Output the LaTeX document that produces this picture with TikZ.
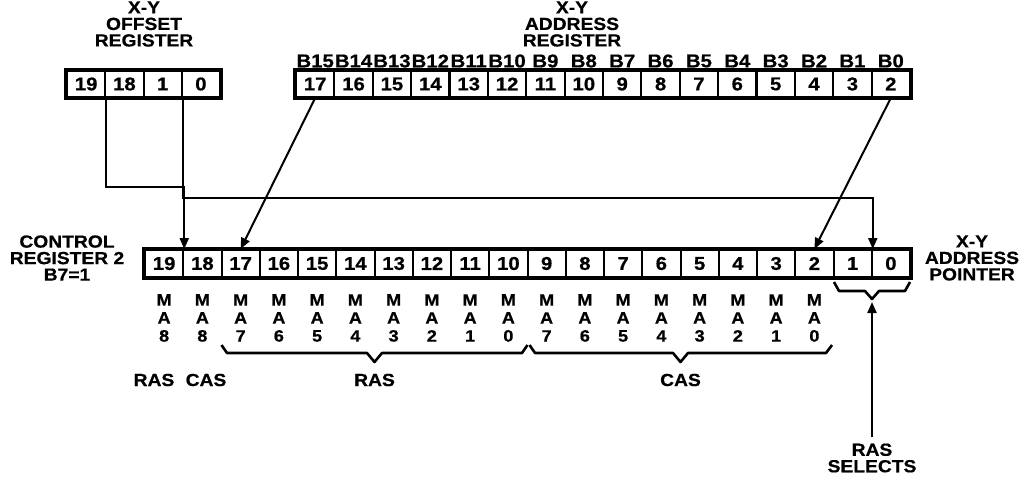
\documentclass[tikz,border=0pt]{standalone}
\usepackage{fontspec}
\setmainfont{Liberation Sans}[BoldFeatures={FakeBold=0.6,FakeStretch=1.1}]
\usetikzlibrary{arrows.meta}
\begin{document}
\begin{tikzpicture}[x=1pt,y=-1pt,
  lbl/.style={font=\bfseries\fontsize{17.5}{16.5}\selectfont, inner sep=0pt, align=center},
  blbl/.style={font=\bfseries\fontsize{18.5}{18.5}\selectfont, inner sep=0pt},
  cell/.style={draw, line width=2pt, minimum width=38.25pt, minimum height=26pt, inner sep=0pt,
               font=\bfseries\fontsize{18.5}{18.5}\selectfont},
  frame/.style={line width=3.2pt},
  malbl/.style={font=\bfseries\fontsize{16.5}{18}\selectfont, inner sep=0pt, align=center},
  arr/.style={line width=2pt, -{Triangle[length=11pt,width=9pt]}},
  brace/.style={line width=2.6pt, line join=round}]
\useasboundingbox (0,0) rectangle (1020,482);
% titles
\node[lbl] (t1) at (144,24) {X-Y\\OFFSET\\REGISTER};
\node[lbl] (t2) at (572,24) {X-Y\\ADDRESS\\REGISTER};
% offset register
\foreach \v [count=\i from 0] in {19,18,1,0}
  \node[cell] (o\v) at ({67+(\i+0.5)*38.25},84) {\v};
\draw[frame] (o19.north west) rectangle (o0.south east);
% address register
\foreach \v [count=\i from 0] in {17,16,...,2}{
  \pgfmathtruncatemacro\bb{\v-2}
  \node[cell] (a\v) at ({296+(\i+0.5)*38.375},84) {\v};
  \node[blbl] (b\bb) at ({296+(\i+0.5)*38.375},61) {B\bb};
}
\draw[frame] (a17.north west) rectangle (a2.south east);
% control register
\foreach \v [count=\i from 0] in {19,18,...,0}
  \node[cell, minimum height=27pt] (c\v) at ({145+(\i+0.5)*38.25},263.5) {\v};
\draw[frame] (c19.north west) rectangle (c0.south east);
\node[lbl] (cl) at (67,258) {CONTROL\\REGISTER 2\\B7=1};
\node[lbl] (pl) at (972,258) {X-Y\\ADDRESS\\POINTER};
% MA labels
\foreach \v [count=\i from 0] in {19,18,...,2}{
  \pgfmathtruncatemacro\d{\i<2 ? 8 : (\i<10 ? 9-\i : 17-\i)}
  \node[malbl] (m\v) at ({145+(\i+0.5)*38.25},318) {M\\A\\\d};
}
% braces
\draw[brace] (221.5,345) -- (227,353) -- (367,353) -- (374.5,362) -- (382,353) -- (522,353) -- (527.5,345);
\draw[brace] (529.5,345) -- (535,353) -- (673,353) -- (680.5,362) -- (688,353) -- (826,353) -- (832,345);
\draw[brace] (834,282) -- (839,291) -- (865,291) -- (872,299) -- (879,291) -- (905,291) -- (910,282);
\coordinate (tipsel) at (872,302);
% lower labels
\node[lbl] (ras1) at (154,380) {RAS};
\node[lbl] (cas1) at (206,380) {CAS};
\node[lbl] (ras2) at (374.5,380) {RAS};
\node[lbl] (cas2) at (680.5,380) {CAS};
\node[lbl] (rs) at (872,458) {RAS\\SELECTS};
% connectors
\draw[arr] (o19.south east) -- ++(0,89) -| (c19.north east);
\draw[arr] (o1.south east) -- ++(0,100) -| (c1.north east);
\draw[arr] (a17.south) -- (c17.north);
\draw[arr] (a2.south) -- (c2.north);
\draw[arr] (rs.north) ++(0,-6) -- (tipsel);
\end{tikzpicture}
\end{document}
